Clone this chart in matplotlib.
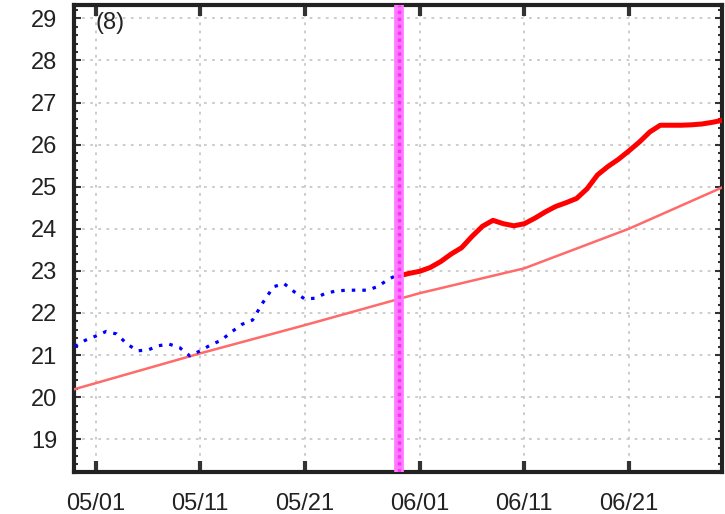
import numpy as np
import pandas as pd
import matplotlib
matplotlib.use("Agg")
import matplotlib.pyplot as plt
import matplotlib.dates as mdates
from matplotlib.ticker import MultipleLocator

# observed series (blue dotted), daily from 04/29 to 05/30
obs_start = "2021-04-29"
obs_vals = [21.20, 21.35, 21.45, 21.56, 21.50, 21.26, 21.10, 21.12, 21.22, 21.26,
            21.18, 20.98, 21.10, 21.24, 21.35, 21.55, 21.73, 21.83, 22.25, 22.62,
            22.70, 22.50, 22.33, 22.35, 22.47, 22.52, 22.54, 22.54, 22.54, 22.63,
            22.80, 22.92]

# forecast series (thick red), daily from 05/30 to 06/30
fc_start = "2021-05-30"
fc_vals = [22.88, 22.94, 22.99, 23.08, 23.22, 23.40, 23.55, 23.82, 24.06, 24.20,
           24.12, 24.07, 24.12, 24.25, 24.40, 24.53, 24.62, 24.72, 24.95, 25.28,
           25.48, 25.65, 25.85, 26.06, 26.30, 26.46, 26.46, 26.46, 26.47, 26.49,
           26.53, 26.58]

# normal line (thin red)
norm_dates = ["2021-04-29", "2021-05-11", "2021-05-21", "2021-06-01",
              "2021-06-11", "2021-06-21", "2021-06-30"]
norm_vals = [20.19, 21.04, 21.71, 22.47, 23.06, 24.00, 24.99]

# vertical marker
split_date = "2021-05-30"

xtick_dates = ["2021-05-01", "2021-05-11", "2021-05-21",
               "2021-06-01", "2021-06-11", "2021-06-21"]
panel_label = "(8)"

obs_dates = pd.date_range(obs_start, periods=len(obs_vals), freq="D")
fc_dates = pd.date_range(fc_start, periods=len(fc_vals), freq="D")

plt.rcParams["font.family"] = ["Liberation Sans", "DejaVu Sans"]

fig = plt.figure(figsize=(7.25, 5.14), dpi=100)
ax = fig.add_axes([0.102, 0.0817, 0.894, 0.908])

ax.grid(True, color="#c8c8c8", lw=1.3, dashes=(1.5, 3.0))
ax.set_axisbelow(True)

ax.plot(pd.to_datetime(norm_dates), norm_vals, color="#ff6a6a", lw=1.8, zorder=3)
ax.plot(obs_dates, obs_vals, color="#0000ff", lw=2.3, dashes=(1.1, 2.2), zorder=4)
ax.plot(fc_dates, fc_vals, color="#ff0000", lw=3.6, zorder=4, solid_capstyle="butt")
ax.axvline(pd.Timestamp(split_date), color="#ff7aff", lw=7, zorder=5)
ax.axvline(pd.Timestamp(split_date), color="#ff30ff", lw=2.5, dashes=(1, 1), zorder=5)

ax.set_xlim(pd.Timestamp("2021-04-28 22:00"), pd.Timestamp("2021-06-29 22:00"))
ax.set_ylim(18.22, 29.31)

ax.set_xticks(pd.to_datetime(xtick_dates))
ax.xaxis.set_major_formatter(mdates.DateFormatter("%m/%d"))
ax.yaxis.set_major_locator(MultipleLocator(1))
ax.yaxis.set_minor_locator(MultipleLocator(0.2))

ax.tick_params(axis="both", which="both", direction="in", top=True, right=True,
               colors="#333333", labelcolor="#222222", labelsize=17)
ax.tick_params(axis="x", which="major", length=8, width=3, pad=15)
ax.tick_params(axis="y", which="major", length=5, width=1.5, pad=12)
ax.tick_params(axis="y", which="minor", length=3, width=1.5)

for s in ax.spines.values():
    s.set_linewidth(3)
    s.set_color("#222222")

ax.text(0.033, 0.985, panel_label, transform=ax.transAxes, ha="left", va="top",
        fontsize=17, color="#222222")

fig.savefig("out.png", dpi=100)
